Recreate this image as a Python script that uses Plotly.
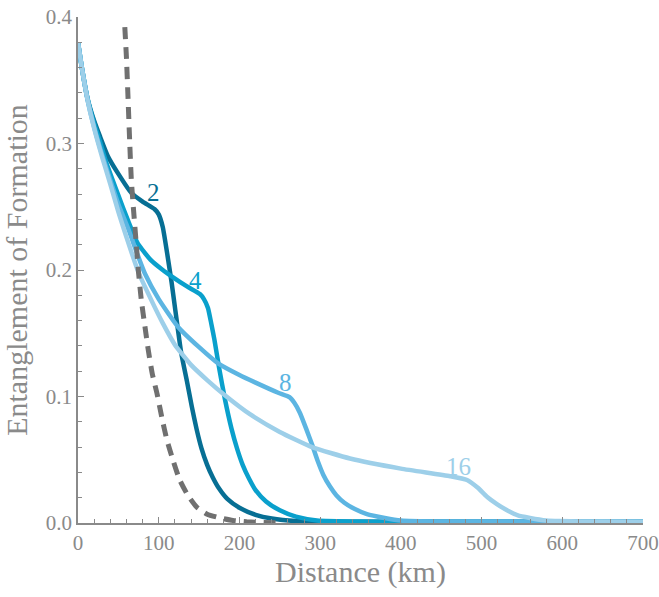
import plotly.graph_objects as go

# ---- data ----
x2 = [0, 5, 12, 20, 27, 37, 50, 66, 80, 95, 100, 105, 111, 116, 120, 128, 135, 141, 147, 153, 160, 167, 175, 185, 200, 220, 240, 270, 300, 350, 400, 700]
y2 = [0.380, 0.359, 0.335, 0.318, 0.306, 0.290, 0.276, 0.261, 0.254, 0.248, 0.244, 0.234, 0.211, 0.190, 0.171, 0.134, 0.112, 0.092, 0.074, 0.059, 0.046, 0.036, 0.027, 0.019, 0.012, 0.0065, 0.0035, 0.0015, 0.0011, 0.001, 0.001, 0.001]

x4 = [0, 5, 12, 20, 27, 35, 50, 62, 74, 90, 105, 116, 135, 151, 156, 161, 165, 169, 175, 182, 190, 197, 204, 212, 220, 233, 250, 270, 296, 350, 400, 700]
y4 = [0.380, 0.359, 0.335, 0.316, 0.302, 0.285, 0.259, 0.239, 0.221, 0.208, 0.200, 0.195, 0.187, 0.181, 0.177, 0.170, 0.158, 0.145, 0.122, 0.098, 0.075, 0.059, 0.046, 0.035, 0.026, 0.017, 0.010, 0.005, 0.002, 0.0011, 0.001, 0.001]

x8 = [0, 5, 12, 20, 30, 40, 50, 62, 75, 83, 100, 124, 150, 174, 200, 220, 248, 262, 268, 275, 283, 290, 297, 304, 312, 320, 330, 343, 358, 380, 400, 450, 700]
y8 = [0.380, 0.359, 0.334, 0.313, 0.291, 0.271, 0.252, 0.233, 0.210, 0.197, 0.177, 0.155, 0.139, 0.126, 0.117, 0.111, 0.103, 0.0995, 0.095, 0.087, 0.074, 0.062, 0.049, 0.038, 0.029, 0.022, 0.016, 0.011, 0.007, 0.004, 0.002, 0.0012, 0.001]

x16 = [0, 5, 12, 20, 30, 40, 50, 60, 75, 91, 105, 120, 140, 160, 182, 213, 250, 290, 337, 400, 461, 482, 495, 507, 519, 531, 545, 560, 580, 597, 650, 700]
y16 = [0.380, 0.359, 0.334, 0.312, 0.289, 0.268, 0.246, 0.226, 0.198, 0.176, 0.158, 0.141, 0.125, 0.113, 0.101, 0.086, 0.072, 0.060, 0.051, 0.043, 0.037, 0.034, 0.028, 0.0206, 0.015, 0.0103, 0.006, 0.004, 0.002, 0.0015, 0.0011, 0.001]

xd = [58, 60, 62, 64, 66, 69, 72, 75, 78.5, 83, 87, 92, 98, 104, 110, 118, 126, 136, 147, 160, 176, 192, 209, 230, 250]
yd = [0.392, 0.368, 0.336, 0.302, 0.272, 0.246, 0.222, 0.198, 0.176, 0.155, 0.137, 0.118, 0.102, 0.083, 0.066, 0.049, 0.034, 0.022, 0.0126, 0.007, 0.004, 0.002, 0.001, 0.0004, 0.0]

labels = ["2", "4", "8", "16"]
label_x = [94, 146, 257, 472]
label_y = [0.261, 0.192, 0.111, 0.045]

colors = ["#076f94", "#0aa0cc", "#5cb5e2", "#9dcfe9"]
FONT = "Liberation Serif"
GREY = "#8a8a8a"

fig = go.Figure()
series = [(x2, y2, colors[0]), (x4, y4, colors[1]), (x8, y8, colors[2]), (x16, y16, colors[3])]
for xs, ys, c in series:
    fig.add_trace(go.Scatter(x=xs, y=ys, mode="lines", line=dict(color=c, width=4.5, shape="spline", smoothing=0.5),
                             showlegend=False, hoverinfo="skip"))
fig.add_trace(go.Scatter(x=xd, y=yd, mode="lines", line=dict(color="#707070", width=5, dash="12px,8px", shape="spline", smoothing=0.5),
                         showlegend=False, hoverinfo="skip"))

for t, lx, ly, c in zip(labels, label_x, label_y, colors):
    fig.add_annotation(x=lx, y=ly, xref="x", yref="y", text=t, showarrow=False,
                       font=dict(family=FONT, size=25, color=c))

fig.update_layout(
    width=659, height=597,
    margin=dict(l=78, r=16, t=17, b=74),
    plot_bgcolor="white", paper_bgcolor="white",
    font=dict(family=FONT, color=GREY),
)
fig.update_xaxes(range=[0, 700], tickvals=[0, 100, 200, 300, 400, 500, 600, 700], automargin=False,
                 ticks="inside", ticklen=6, tickcolor=GREY, tickwidth=1,
                 minor=dict(dtick=20, ticks="inside", ticklen=4, tickcolor=GREY, showgrid=False),
                 showline=True, linecolor=GREY, linewidth=1.5, showgrid=False, zeroline=False,
                 tickfont=dict(family=FONT, size=21, color=GREY),
                 title=dict(text="Distance (km)", font=dict(family=FONT, size=30, color=GREY), standoff=6))
fig.update_yaxes(range=[0, 0.4], tickvals=[0, 0.1, 0.2, 0.3, 0.4], tickformat=".1f", automargin=False,
                 ticks="inside", ticklen=6, tickcolor=GREY, tickwidth=1,
                 minor=dict(dtick=0.02, ticks="inside", ticklen=4, tickcolor=GREY, showgrid=False),
                 showline=True, linecolor=GREY, linewidth=1.5, showgrid=False, zeroline=False,
                 tickfont=dict(family=FONT, size=21, color=GREY),
                 title=dict(text="Entanglement of Formation", font=dict(family=FONT, size=30, color=GREY), standoff=12))

fig.write_html("out.html")
